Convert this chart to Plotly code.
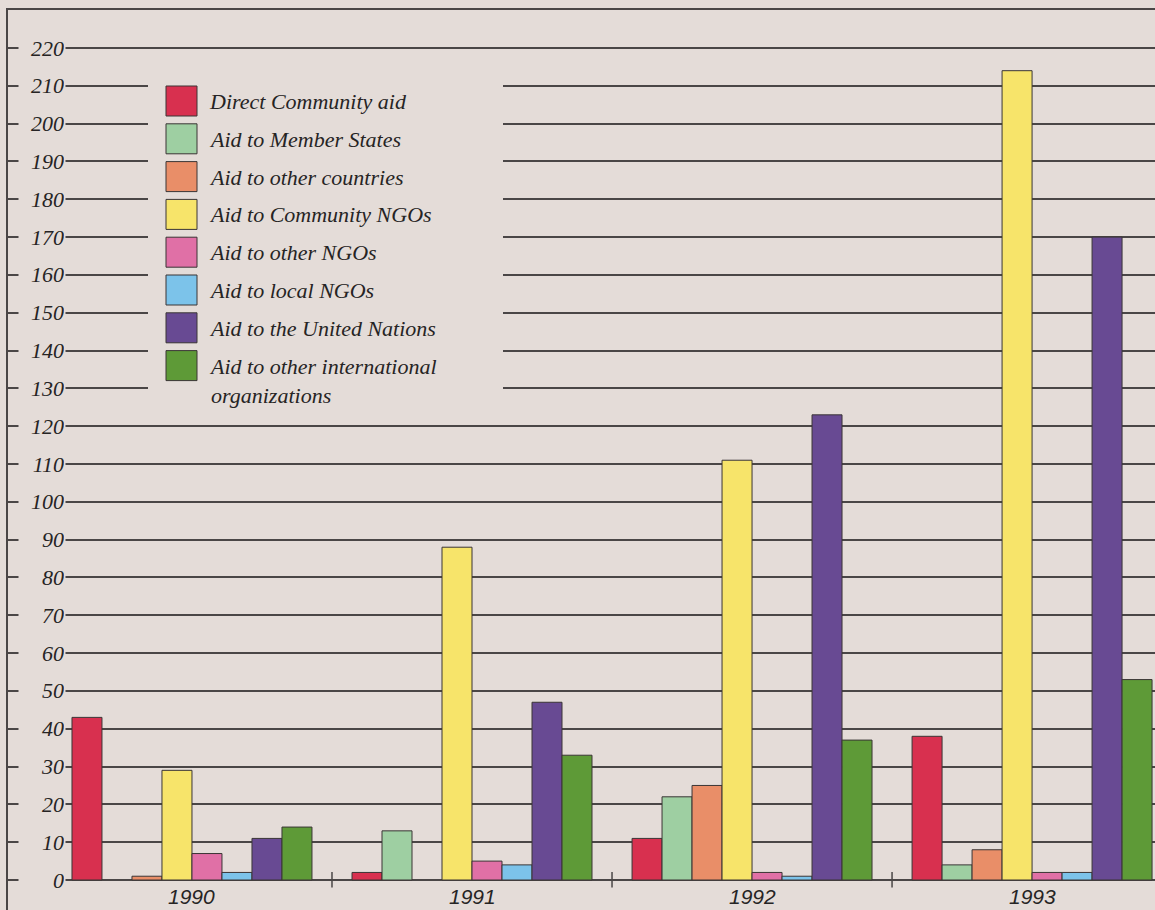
import plotly.graph_objects as go

years = ["1990", "1991", "1992", "1993"]
series_names = [
    "Direct Community aid",
    "Aid to Member States",
    "Aid to other countries",
    "Aid to Community NGOs",
    "Aid to other NGOs",
    "Aid to local NGOs",
    "Aid to the United Nations",
    "Aid to other international<br>organizations",
]
direct_community = [43, 2, 11, 38]
member_states = [None, 13, 22, 4]
other_countries = [1, None, 25, 8]
community_ngos = [29, 88, 111, 214]
other_ngos = [7, 5, 2, 2]
local_ngos = [2, 4, 1, 2]
united_nations = [11, 47, 123, 170]
other_intl = [14, 33, 37, 53]
series_values = [direct_community, member_states, other_countries, community_ngos,
                 other_ngos, local_ngos, united_nations, other_intl]
colors = ["#d8304f", "#9ecfa2", "#e98e68", "#f7e46a", "#e070a6", "#7cc3ea", "#684a93", "#5e9a37"]
y_ticks = list(range(0, 230, 10))

BG = "#e4dcd8"
INK = "#262424"
LINE = "#4a4646"
W, H = 1155, 910
ML, MT = 8, 10
PW, PH = W - ML, H - MT


def px(x):
    return (x - ML) / PW


def py(y):
    return (H - y) / PH


fig = go.Figure()
for name, vals, col in zip(series_names, series_values, colors):
    fig.add_trace(go.Bar(x=years, y=vals, name=name.replace("<br>", " "),
                         marker=dict(color=col, line=dict(color="#3a3535", width=1)),
                         showlegend=False))

annotations = []
shapes = []
# y tick labels
for v in y_ticks:
    annotations.append(dict(x=px(66), xref="paper", y=v, yref="y", text=str(v), showarrow=False,
                            xanchor="right", yanchor="middle", bgcolor=BG, width=44, align="right",
                            font=dict(family="Liberation Serif", size=22, color=INK, style="italic")))
# year labels
for i, yr in enumerate(years):
    annotations.append(dict(x=i, xref="x", y=-4.4, yref="y", text=yr, showarrow=False,
                            xanchor="center", yanchor="middle",
                            font=dict(family="Liberation Sans", size=21, color=INK, style="italic")))
# category separators
for i in range(len(years) - 1):
    shapes.append(dict(type="line", xref="x", yref="y", x0=i + 0.5, x1=i + 0.5, y0=-2, y1=2.1,
                       line=dict(color=LINE, width=1.5)))

# legend
shapes.append(dict(type="rect", xref="paper", yref="paper", x0=px(148), x1=px(503), y0=py(410), y1=py(66),
                   fillcolor=BG, line=dict(width=0), layer="above"))
for i, (name, col) in enumerate(zip(series_names, colors)):
    top = 86 + 37.8 * i
    shapes.append(dict(type="rect", xref="paper", yref="paper", x0=px(166), x1=px(197),
                       y0=py(top + 30), y1=py(top), fillcolor=col, line=dict(color="#3a3535", width=1),
                       layer="above"))
    annotations.append(dict(x=px(207), xref="paper", y=py(top + 1), yref="paper",
                            text=name, showarrow=False,
                            xanchor="left", yanchor="top", align="left",
                            font=dict(family="Liberation Serif", size=22, color=INK, style="italic")))

fig.update_layout(
    width=W, height=H,
    margin=dict(l=ML, r=0, t=MT, b=0),
    paper_bgcolor=BG, plot_bgcolor=BG,
    barmode="group", bargap=0.143, bargroupgap=0,
    xaxis=dict(type="category", range=[-0.657, 3.439], side="top", showline=True, linecolor=LINE,
               linewidth=1.5, showticklabels=False, ticks="", showgrid=False, zeroline=False, fixedrange=True),
    yaxis=dict(range=[-7.93, 230.05], tickvals=y_ticks, showticklabels=False, ticks="",
               showgrid=True, gridcolor=LINE, gridwidth=1.5, zeroline=False,
               showline=True, linecolor=LINE, linewidth=1.5, fixedrange=True),
    annotations=annotations,
    shapes=shapes,
    showlegend=False,
)

fig.write_html("out.html")
